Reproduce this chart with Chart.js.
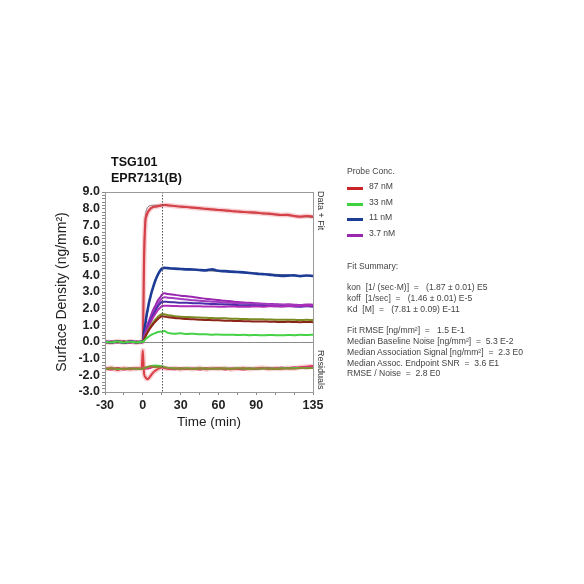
<!DOCTYPE html>
<html>
<head>
<meta charset="utf-8">
<script src="https://cdn.jsdelivr.net/npm/chart.js@4.4.1/dist/chart.umd.min.js"></script>
<style>
  html, body { margin: 0; padding: 0; background: #fff; }
  body { width: 584px; height: 584px; position: relative; overflow: hidden; font-family: "Liberation Sans", Arial, sans-serif; }
  #chart { position: absolute; left: 0; top: 0; }
  .title { position: absolute; left: 111px; font-weight: bold; font-size: 12.5px; color: #111; }
  .side { position: absolute; left: 316px; font-size: 9px; color: #333; writing-mode: vertical-rl; }
  .panel { position: absolute; left: 347px; font-size: 8.6px; color: #444; white-space: pre; }
  .sw { position: absolute; left: 347px; width: 16px; height: 3px; }
</style>
</head>
<body>
<canvas id="chart" width="584" height="584"></canvas>

<div class="title" style="top:155px">TSG101</div>
<div class="title" style="top:171px">EPR7131(B)</div>
<div class="side" style="top:191px">Data + Fit</div>
<div class="side" style="top:350px">Residuals</div>

<div class="panel" style="top:166px">Probe Conc.</div>
<div id="legend"></div>
<div class="panel" style="top:261px">Fit Summary:</div>
<div id="summary"></div>

<script>
'use strict';

// ── Data ──────────────────────────────────────────────────────────────────────

const times = [-30, -25, -20, -15, -10, -5, -1, 0, 1, 2, 3, 4, 5, 6, 7, 8, 10, 12, 14, 15, 17,
  20, 25, 30, 35, 40, 45, 50, 55, 60, 65, 70, 75, 80, 85, 90, 95, 100, 105, 110, 115, 120, 125, 130, 135];

const red87 = [0.03, -0.04, 0.05, -0.02, 0.04, -0.05, 0.02, 0.0, 5.0, 7.2, 7.6, 7.8, 7.9, 8.0, 8.05, 8.1, 8.12, 8.15, 8.18, 8.2, 8.22,
  8.2, 8.16, 8.12, 8.1, 8.06, 8.03, 7.99, 7.96, 7.92, 7.9, 7.86, 7.83, 7.8, 7.78, 7.76, 7.72, 7.7, 7.66, 7.62, 7.63, 7.56, 7.52, 7.56, 7.52];
const red87Fit = [0, 0, 0, 0, 0, 0, 0, 0, 5.6, 7.5, 7.95, 8.1, 8.16, 8.19, 8.2, 8.2, 8.21, 8.21, 8.21, 8.21, 8.2,
  8.19, 8.15, 8.12, 8.08, 8.05, 8.01, 7.98, 7.95, 7.92, 7.88, 7.85, 7.82, 7.79, 7.76, 7.73, 7.7, 7.67, 7.64, 7.61, 7.58, 7.56, 7.53, 7.5, 7.48];
const blue11 = [0.02, -0.03, 0.03, -0.04, 0.02, -0.02, 0.01, 0.0, 0.6, 1.1, 1.6, 2.0, 2.4, 2.7, 3.0, 3.25, 3.7, 4.05, 4.3, 4.4, 4.45,
  4.43, 4.4, 4.38, 4.36, 4.35, 4.32, 4.3, 4.36, 4.27, 4.25, 4.22, 4.2, 4.18, 4.14, 4.1, 4.07, 4.04, 4.0, 3.97, 3.98, 4.0, 3.95, 3.99, 3.96];
const blue11Fit = [0, 0, 0, 0, 0, 0, 0, 0, 0.55, 1.05, 1.5, 1.9, 2.3, 2.65, 2.95, 3.2, 3.65, 4.0, 4.3, 4.42, 4.41,
  4.4, 4.38, 4.36, 4.34, 4.32, 4.3, 4.28, 4.26, 4.24, 4.22, 4.2, 4.18, 4.16, 4.14, 4.12, 4.1, 4.08, 4.06, 4.04, 4.02, 4.0, 3.98, 3.97, 3.95];
const purple37a = [0.03, -0.02, 0.02, -0.03, 0.04, -0.02, 0.02, 0.0, 0.3, 0.6, 0.85, 1.1, 1.3, 1.5, 1.7, 1.9, 2.2, 2.5, 2.7, 2.82, 2.92,
  2.88, 2.83, 2.78, 2.74, 2.7, 2.64, 2.6, 2.55, 2.52, 2.47, 2.44, 2.4, 2.37, 2.35, 2.32, 2.3, 2.28, 2.27, 2.25, 2.26, 2.24, 2.22, 2.25, 2.24];
const purple37b = [0.01, 0.03, -0.03, 0.02, -0.02, 0.03, -0.01, 0.0, 0.28, 0.55, 0.8, 1.0, 1.2, 1.4, 1.55, 1.72, 2.0, 2.3, 2.5, 2.6, 2.68,
  2.66, 2.62, 2.58, 2.55, 2.5, 2.48, 2.45, 2.42, 2.4, 2.37, 2.35, 2.33, 2.32, 2.3, 2.28, 2.27, 2.26, 2.24, 2.23, 2.22, 2.2, 2.21, 2.19, 2.2];
const indigo = [-0.02, 0.02, 0.01, -0.03, 0.03, -0.01, 0.02, 0.0, 0.25, 0.5, 0.72, 0.92, 1.1, 1.28, 1.45, 1.6, 1.88, 2.15, 2.32, 2.4, 2.42,
  2.4, 2.38, 2.36, 2.35, 2.33, 2.32, 2.3, 2.28, 2.27, 2.25, 2.24, 2.22, 2.2, 2.2, 2.18, 2.17, 2.16, 2.15, 2.14, 2.15, 2.13, 2.12, 2.14, 2.12];
const magenta = [0.02, -0.03, 0.02, 0.03, -0.03, 0.02, -0.02, 0.0, 0.22, 0.45, 0.65, 0.83, 1.0, 1.15, 1.3, 1.45, 1.7, 1.92, 2.08, 2.15, 2.18,
  2.17, 2.16, 2.15, 2.15, 2.14, 2.14, 2.13, 2.13, 2.12, 2.12, 2.13, 2.12, 2.11, 2.12, 2.13, 2.12, 2.14, 2.15, 2.13, 2.16, 2.15, 2.17, 2.18, 2.2];
const olive = [0.02, -0.02, 0.03, -0.02, 0.02, -0.03, 0.01, 0.0, 0.18, 0.35, 0.5, 0.65, 0.8, 0.92, 1.05, 1.15, 1.35, 1.52, 1.63, 1.68, 1.66,
  1.6, 1.55, 1.52, 1.5, 1.48, 1.47, 1.45, 1.44, 1.42, 1.42, 1.4, 1.39, 1.38, 1.37, 1.37, 1.36, 1.35, 1.34, 1.34, 1.33, 1.33, 1.32, 1.33, 1.32];
const brown = [-0.03, 0.02, -0.02, 0.03, -0.02, 0.02, -0.01, 0.0, 0.16, 0.32, 0.46, 0.6, 0.72, 0.84, 0.95, 1.05, 1.22, 1.38, 1.5, 1.55, 1.53,
  1.48, 1.44, 1.41, 1.38, 1.36, 1.34, 1.32, 1.31, 1.3, 1.28, 1.27, 1.26, 1.25, 1.24, 1.23, 1.23, 1.22, 1.21, 1.2, 1.21, 1.2, 1.19, 1.2, 1.19];
const green33 = [0.02, -0.02, 0.03, -0.03, 0.02, -0.02, 0.02, 0.0, 0.08, 0.15, 0.22, 0.28, 0.34, 0.4, 0.44, 0.48, 0.54, 0.6, 0.63, 0.6, 0.66,
  0.55, 0.5, 0.52, 0.48, 0.5, 0.46, 0.47, 0.44, 0.45, 0.43, 0.44, 0.42, 0.43, 0.41, 0.42, 0.4, 0.42, 0.41, 0.4, 0.42, 0.41, 0.43, 0.42, 0.44];

// residuals, drawn offset below the data panel
const resRed = [-1.62, -1.55, -1.68, -1.58, -1.64, -1.57, -1.6, -0.5, -1.9, -2.1, -2.2, -2.22, -2.15, -2.05, -1.95, -1.85, -1.72, -1.62, -1.55, -1.5, -1.55,
  -1.6, -1.57, -1.63, -1.58, -1.62, -1.56, -1.64, -1.58, -1.61, -1.57, -1.63, -1.6, -1.56, -1.62, -1.58, -1.55, -1.62, -1.57, -1.6, -1.56, -1.58, -1.52, -1.48, -1.45];
const resPink = [-1.58, -1.66, -1.55, -1.65, -1.57, -1.63, -1.58, -1.6, -1.62, -1.6, -1.58, -1.6, -1.57, -1.55, -1.52, -1.5, -1.48, -1.5, -1.52, -1.5, -1.55,
  -1.58, -1.63, -1.57, -1.62, -1.58, -1.65, -1.57, -1.62, -1.56, -1.64, -1.58, -1.6, -1.65, -1.57, -1.62, -1.58, -1.55, -1.6, -1.54, -1.58, -1.52, -1.55, -1.5, -1.48];
const resGreen = [-1.6, -1.58, -1.62, -1.6, -1.58, -1.61, -1.6, -1.6, -1.58, -1.55, -1.52, -1.5, -1.47, -1.45, -1.43, -1.42, -1.4, -1.42, -1.44, -1.45, -1.5,
  -1.55, -1.58, -1.6, -1.57, -1.6, -1.58, -1.6, -1.59, -1.6, -1.58, -1.6, -1.57, -1.6, -1.58, -1.6, -1.59, -1.58, -1.6, -1.57, -1.58, -1.56, -1.55, -1.57, -1.55];
const resOlive = [-1.63, -1.6, -1.58, -1.62, -1.6, -1.58, -1.62, -1.6, -1.56, -1.52, -1.5, -1.48, -1.46, -1.45, -1.46, -1.48, -1.5, -1.52, -1.5, -1.48, -1.52,
  -1.56, -1.6, -1.58, -1.6, -1.62, -1.6, -1.58, -1.61, -1.59, -1.6, -1.62, -1.58, -1.6, -1.62, -1.6, -1.58, -1.6, -1.62, -1.6, -1.58, -1.6, -1.56, -1.58, -1.56];

const xTicks = [-30, 0, 30, 60, 90, 135];
const yRange = [-3, 9];
const assocEnd = 15;

const legendItems = [
  { label: '87 nM', color: '#c8242a' },
  { label: '33 nM', color: '#3fd23f' },
  { label: '11 nM', color: '#1d3c96' },
  { label: '3.7 nM', color: '#9a27b0' }
];

const summaryLines = [
  'kon  [1/ (sec\u00b7M)]  =   (1.87 \u00b1 0.01) E5',
  'koff  [1/sec]  =   (1.46 \u00b1 0.01) E-5',
  'Kd  [M]  =   (7.81 \u00b1 0.09) E-11',
  '',
  'Fit RMSE [ng/mm\u00b2]  =   1.5 E-1',
  'Median Baseline Noise [ng/mm\u00b2]  =  5.3 E-2',
  'Median Association Signal [ng/mm\u00b2]  =  2.3 E0',
  'Median Assoc. Endpoint SNR  =  3.6 E1',
  'RMSE / Noise  =  2.8 E0'
];

// ── Side panel ────────────────────────────────────────────────────────────────

const legendEl = document.getElementById('legend');
legendItems.forEach((it, i) => {
  const top = 181 + i * 15.7;
  legendEl.insertAdjacentHTML('beforeend',
    `<div class="sw" style="top:${top + 6}px;background:${it.color}"></div>` +
    `<div class="panel" style="left:369px;top:${top}px">${it.label}</div>`);
});

const summaryEl = document.getElementById('summary');
summaryLines.forEach((t, i) => {
  summaryEl.insertAdjacentHTML('beforeend', `<div class="panel" style="top:${282 + i * 10.8}px">${t}</div>`);
});

// ── Chart ─────────────────────────────────────────────────────────────────────

function series(vals) {
  return times.map((t, i) => ({ x: t, y: vals[i] }));
}

function line(vals, color, width) {
  return {
    data: series(vals),
    borderColor: color,
    borderWidth: width,
    pointRadius: 0,
    cubicInterpolationMode: 'monotone',
    fill: false
  };
}

const framePlugin = {
  id: 'frame',
  beforeDatasetsDraw(chart) {
    const { ctx, chartArea: a, scales } = chart;
    const y0 = scales.y.getPixelForValue(0);
    ctx.save();
    ctx.strokeStyle = '#8a8a8a';
    ctx.lineWidth = 1;
    ctx.beginPath();
    ctx.moveTo(a.left, y0 + 0.5);
    ctx.lineTo(a.right, y0 + 0.5);
    ctx.stroke();
    ctx.restore();
  },
  afterDatasetsDraw(chart) {
    const { ctx, chartArea: a, scales } = chart;
    const xd = Math.round(scales.x.getPixelForValue(assocEnd)) + 0.5;
    ctx.save();
    ctx.strokeStyle = '#555';
    ctx.lineWidth = 1;
    ctx.setLineDash([1.5, 1.5]);
    ctx.beginPath();
    ctx.moveTo(xd, a.top);
    ctx.lineTo(xd, a.bottom);
    ctx.stroke();
    ctx.setLineDash([]);
    ctx.strokeStyle = '#9a9a9a';
    ctx.strokeRect(a.left + 0.5, a.top + 0.5, a.right - a.left, a.bottom - a.top);
    ctx.restore();
  }
};

const tickFont = { family: 'Liberation Sans', size: 12.5, weight: 'bold' };

new Chart(document.getElementById('chart'), {
  type: 'line',
  data: {
    datasets: [
      line(green33, '#46d246', 2),
      line(brown, '#8c2418', 2),
      line(olive, '#7b8a22', 2),
      line(magenta, '#b02cb8', 2),
      line(indigo, '#4a2fa8', 2),
      line(purple37b, '#a33cc0', 2),
      line(purple37a, '#9a27b0', 2),
      line(blue11, '#1d3c96', 2.6),
      line(blue11Fit, '#333', 0.8),
      line(resOlive, '#8a8a30', 1.8),
      line(resGreen, '#48c848', 1.8),
      line(resPink, '#e0307a', 2.2),
      line(resRed, 'rgba(235,120,130,0.35)', 5),
      line(resRed, '#d42026', 2),
      line(red87, 'rgba(235,120,130,0.35)', 5),
      line(red87, '#c8242a', 2.2),
      line(red87Fit, '#555', 0.8)
    ]
  },
  options: {
    responsive: false,
    animation: false,
    layout: { padding: { left: 54, top: 192, right: 271, bottom: 154 } },
    plugins: { legend: { display: false }, tooltip: { enabled: false } },
    scales: {
      x: {
        type: 'linear',
        min: times[0],
        max: times[times.length - 1],
        afterBuildTicks: s => {
          const ticks = [];
          for (let v = xTicks[0]; v <= xTicks[xTicks.length - 1]; v += 15) ticks.push({ value: v });
          s.ticks = ticks;
        },
        afterFit: s => { s.height = 38; },
        grid: { drawOnChartArea: false, tickLength: 3, color: '#888' },
        border: { color: '#999' },
        ticks: {
          font: tickFont, color: '#222', padding: 3, maxRotation: 0, autoSkip: false,
          callback: v => xTicks.includes(v) ? String(v) : ''
        },
        title: {
          display: true, text: 'Time (min)', color: '#222',
          font: { family: 'Liberation Sans', size: 13.5 }, padding: { top: 4, bottom: 0 }
        }
      },
      y: {
        min: yRange[0],
        max: yRange[1],
        afterBuildTicks: s => {
          const ticks = [];
          for (let i = yRange[0] * 5; i <= yRange[1] * 5; i++) ticks.push({ value: i / 5 });
          s.ticks = ticks;
        },
        afterFit: s => { s.width = 51; },
        grid: { drawOnChartArea: false, tickLength: 3, color: '#888' },
        border: { color: '#999' },
        ticks: {
          font: tickFont, color: '#222', padding: 2, autoSkip: false,
          callback: v => Math.abs(v - Math.round(v)) < 1e-6 ? Math.round(v).toFixed(1) : ''
        },
        title: {
          display: true, text: 'Surface Density (ng/mm\u00b2)', color: '#222',
          font: { family: 'Liberation Sans', size: 14 }, padding: { top: 0, bottom: 2 }
        }
      }
    }
  },
  plugins: [framePlugin]
});
</script>
</body>
</html>
